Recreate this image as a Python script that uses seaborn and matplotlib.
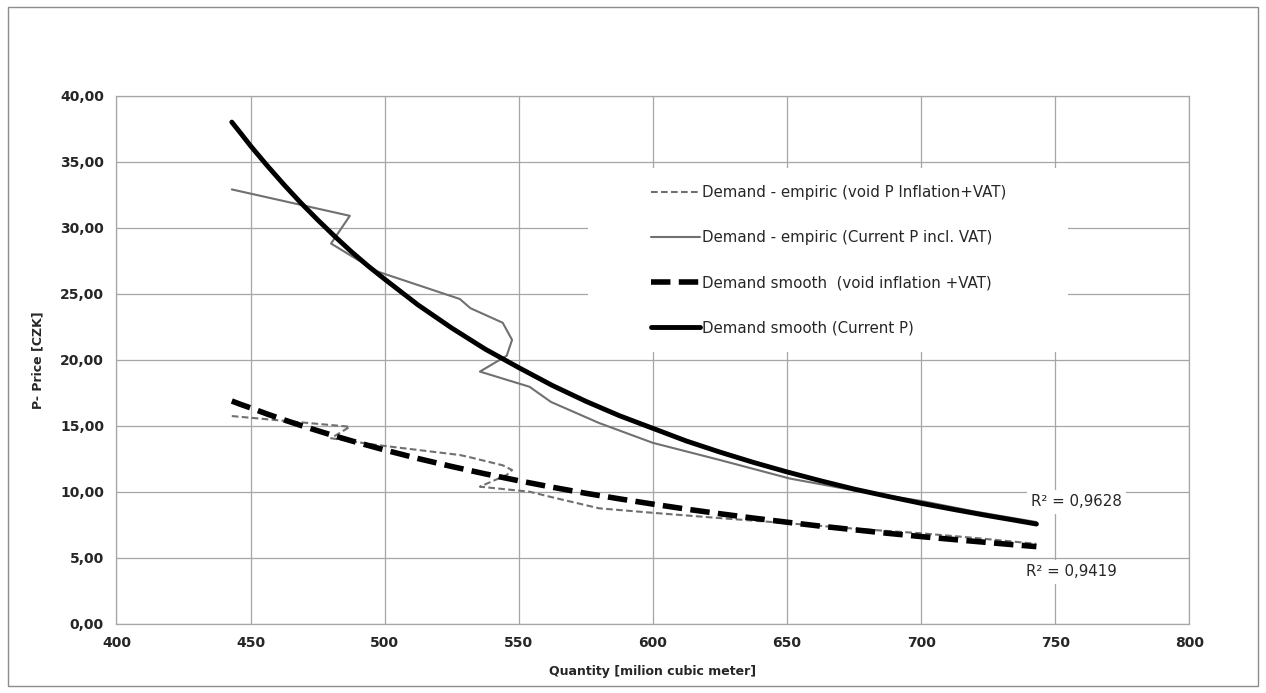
import numpy as np
import pandas as pd
import seaborn as sns
import matplotlib.pyplot as plt
from matplotlib.patches import Rectangle
from matplotlib.ticker import FuncFormatter, MultipleLocator

# empirical demand points (quantity in milion m3, price in CZK)
qty_emp = [443, 487, 480, 497, 528, 532, 544, 547.5, 545.5, 535.5, 554, 562, 580,
           600, 625, 651, 675, 700, 720, 743]
price_current = [32.9, 30.9, 28.8, 26.7, 24.6, 23.9, 22.8, 21.5, 20.3, 19.1, 17.95, 16.8, 15.2,
                 13.7, 12.4, 11.0, 10.1, 9.3, 8.5, 7.7]
price_void = [15.73, 14.92, 14.05, 13.54, 12.78, 12.6, 12.0, 11.64, 11.27, 10.38, 10.0, 9.6, 8.74,
              8.4, 8.0, 7.6, 7.2, 6.85, 6.5, 6.05]

# smooth (trend) curves
qty_smooth = [443, 446.5, 450, 456.25, 462.5, 468.75, 475, 481.25, 487.5, 493.75, 500,
              512.5, 525, 537.5, 550, 562.5, 575, 587.5, 600, 612.5, 625, 637.5, 650,
              662.5, 675, 687.5, 700, 712.5, 725, 734, 743]
smooth_current = [38.0, 37.11, 36.2, 34.69, 33.25, 31.88, 30.6, 29.37, 28.2, 27.11, 26.1,
                  24.14, 22.4, 20.8, 19.4, 18.05, 16.85, 15.76, 14.8, 13.84, 13.0, 12.22, 11.5,
                  10.83, 10.2, 9.65, 9.12, 8.64, 8.18, 7.87, 7.55]
smooth_void = [16.87, 16.6, 16.35, 15.88, 15.44, 15.02, 14.62, 14.23, 13.86, 13.51, 13.16,
               12.51, 11.91, 11.35, 10.83, 10.34, 9.88, 9.46, 9.06, 8.68, 8.33, 8.0, 7.69,
               7.39, 7.12, 6.85, 6.6, 6.37, 6.15, 5.99, 5.84]

r2_labels = ["R\u00b2 = 0,9628", "R\u00b2 = 0,9419"]
labels = ["Demand - empiric (void P Inflation+VAT)",
          "Demand - empiric (Current P incl. VAT)",
          "Demand smooth  (void inflation +VAT)",
          "Demand smooth (Current P)"]

sns.set_style("white")
plt.rcParams['font.family'] = ['DejaVu Sans']

fig = plt.figure(figsize=(12.66, 6.93), dpi=100)
ax = fig.add_axes([0.092, 0.1, 0.8474, 0.7619])

grey = "#707070"
grid_c = "#a6a6a6"

sns.lineplot(x=qty_emp, y=price_void, sort=False, estimator=None, ax=ax, color=grey,
             lw=1.5, linestyle=(0, (3.2, 1.6)), label=labels[0], zorder=3)
sns.lineplot(x=qty_emp, y=price_current, sort=False, estimator=None, ax=ax, color=grey,
             lw=1.5, label=labels[1], zorder=3)
sns.lineplot(x=qty_smooth, y=smooth_void, sort=False, estimator=None, ax=ax, color="black",
             lw=4, linestyle=(0, (3.5, 1.5)), label=labels[2], zorder=4)
sns.lineplot(x=qty_smooth, y=smooth_current, sort=False, estimator=None, ax=ax, color="black",
             lw=3.5, label=labels[3], zorder=4, solid_capstyle="round")

ax.set_xlim(400, 800)
ax.set_ylim(0, 40)
ax.xaxis.set_major_locator(MultipleLocator(50))
ax.yaxis.set_major_locator(MultipleLocator(5))
ax.yaxis.set_major_formatter(FuncFormatter(lambda v, p: f"{v:.2f}".replace(".", ",")))
ax.grid(True, color=grid_c, lw=0.9, zorder=0)
ax.set_axisbelow(True)
for s in ax.spines.values():
    s.set_color(grid_c)
    s.set_linewidth(0.9)
ax.tick_params(axis="both", which="major", direction="out", length=5, width=0.9,
               color=grid_c, labelsize=10, pad=4)
for t in ax.get_xticklabels() + ax.get_yticklabels():
    t.set_fontweight("bold")

ax.set_xlabel("Quantity [milion cubic meter]", fontsize=9, fontweight="bold", labelpad=11)
ax.set_ylabel("P- Price [CZK]", fontsize=9, fontweight="bold", labelpad=11)

# white legend area covering the grid
ax.add_patch(Rectangle((0.4395, 0.5146), 0.4475, 0.3484, transform=ax.transAxes,
                       facecolor="white", edgecolor="none", zorder=2))
leg = ax.legend(loc="center left", bbox_to_anchor=(0.4908, 0.688), frameon=False,
                fontsize=10.8, handlelength=3.3, handletextpad=0.15, labelspacing=2.0,
                borderpad=0)
leg.set_zorder(5)

ax.text(741, 9.22, r2_labels[0], fontsize=10.8, va="center", ha="left", zorder=5,
        bbox=dict(facecolor="white", edgecolor="none", pad=3))
ax.text(739, 3.92, r2_labels[1], fontsize=10.8, va="center", ha="left", zorder=5,
        bbox=dict(facecolor="white", edgecolor="none", pad=3))

# outer chart border
fig.patches.append(Rectangle((0.006, 0.01), 0.988, 0.98, transform=fig.transFigure,
                             facecolor="none", edgecolor="#8c8c8c", lw=1))

fig.savefig("out.png", dpi=100)
